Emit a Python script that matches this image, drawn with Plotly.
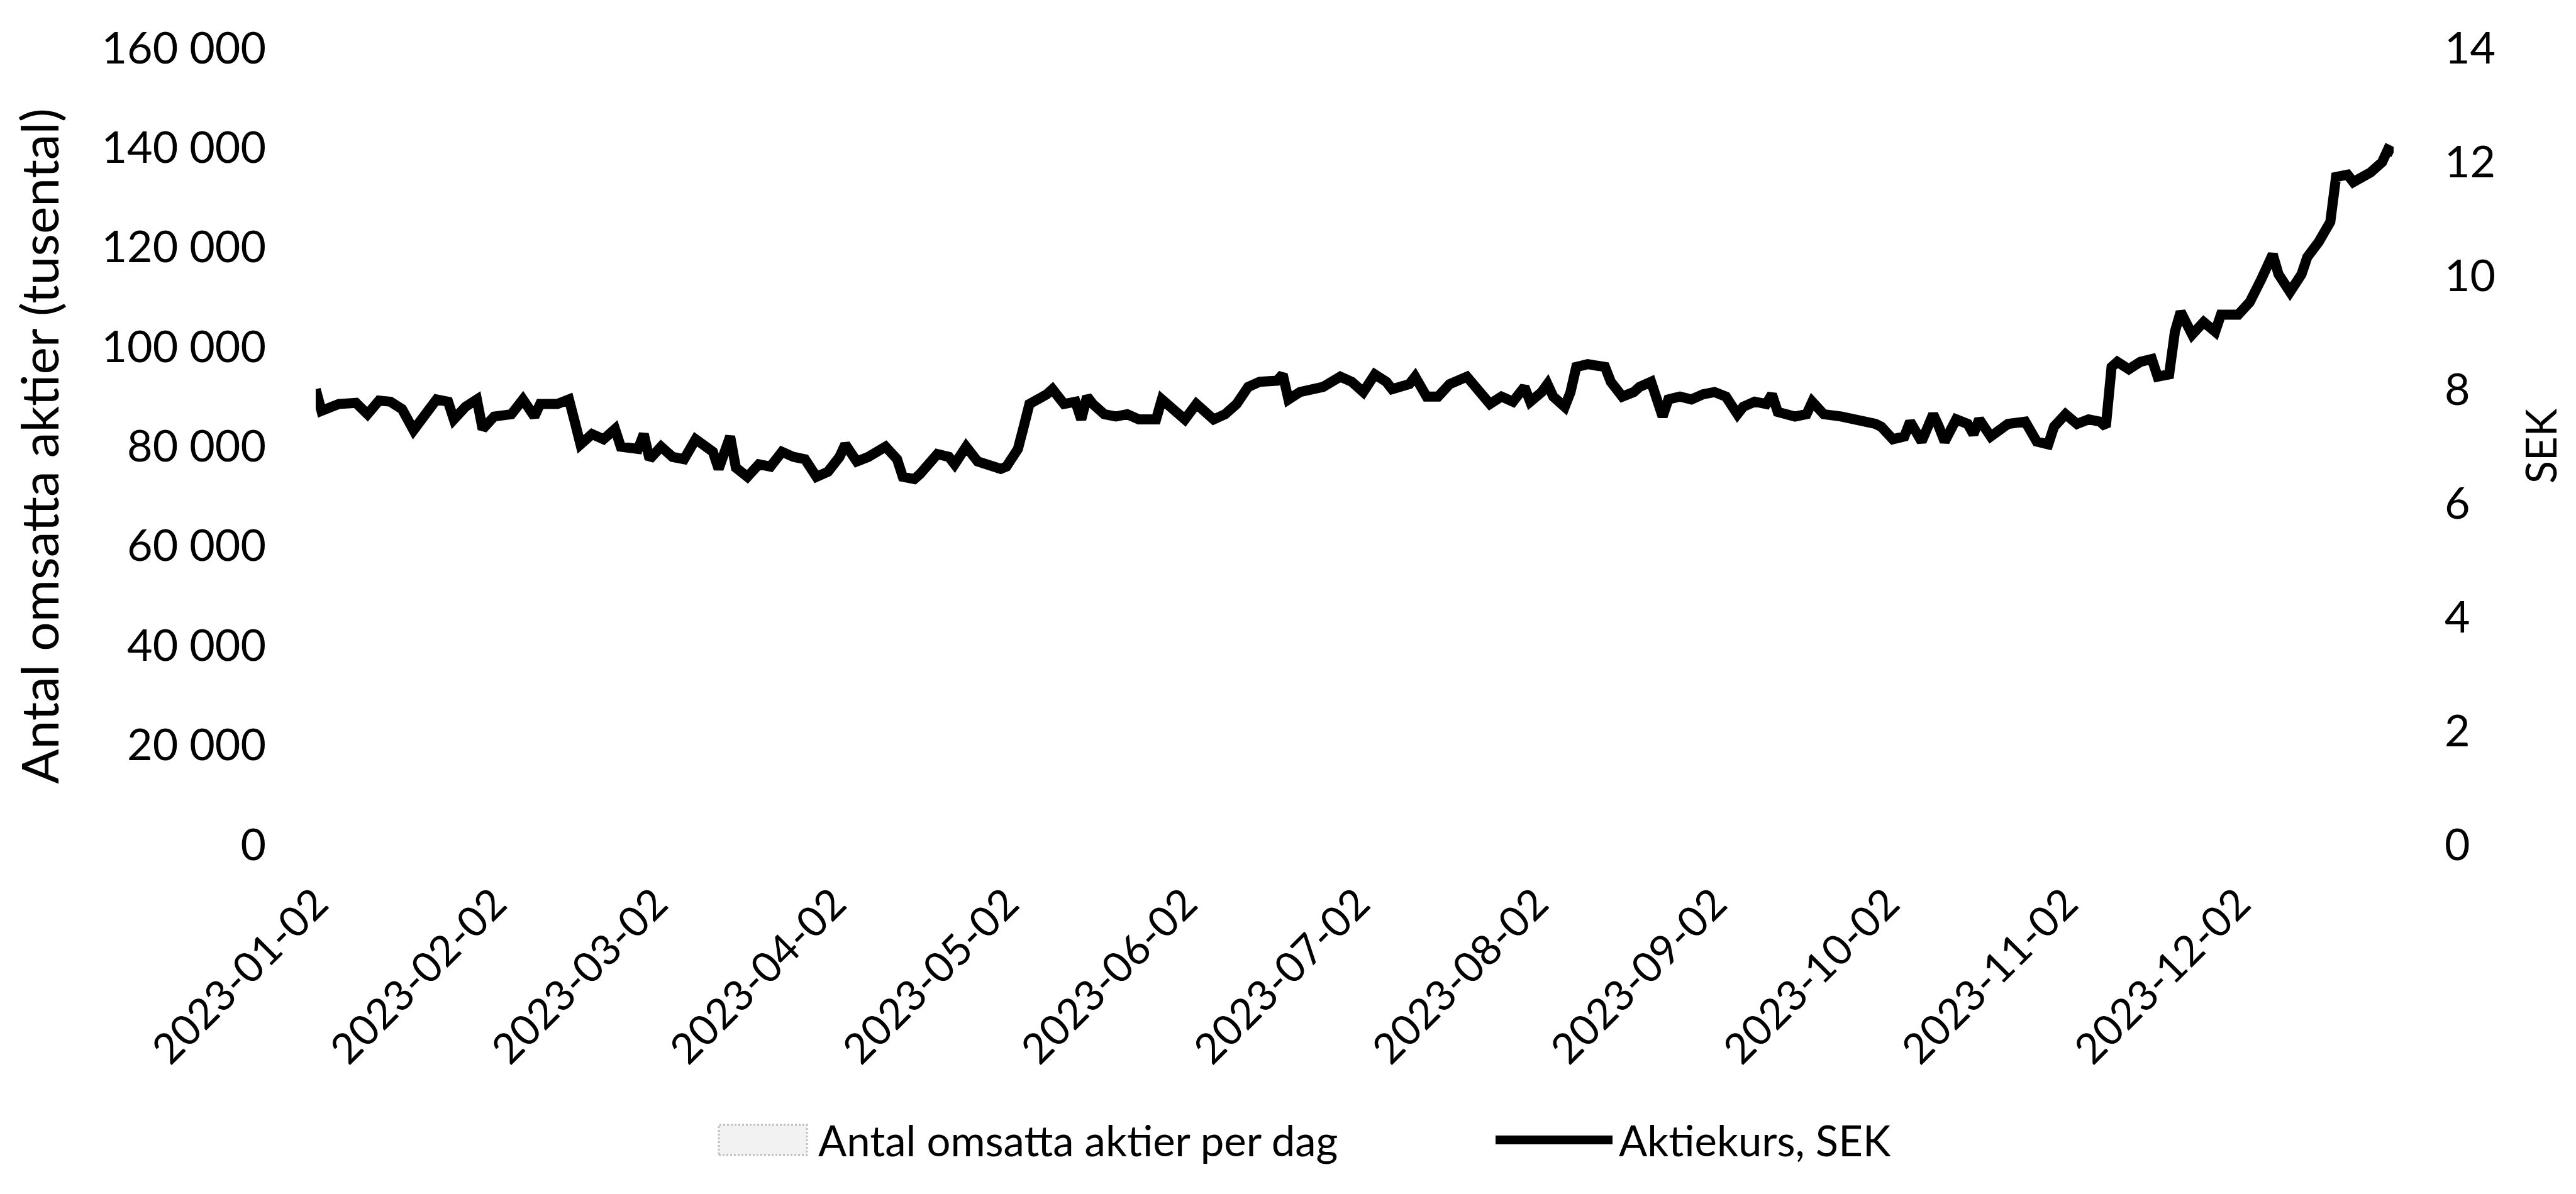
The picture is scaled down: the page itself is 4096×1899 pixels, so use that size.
import plotly.graph_objects as go

# ---------------- data ----------------
dates = [
    "2023-01-02","2023-01-03","2023-01-06","2023-01-09","2023-01-11","2023-01-13","2023-01-15","2023-01-17",
    "2023-01-19","2023-01-21","2023-01-23","2023-01-25","2023-01-26","2023-01-28","2023-01-30","2023-01-31",
    "2023-02-02","2023-02-05","2023-02-07","2023-02-09","2023-02-10","2023-02-13","2023-02-15","2023-02-16",
    "2023-02-17","2023-02-19","2023-02-21","2023-02-23","2023-02-24","2023-02-27","2023-02-28",
    "2023-03-01","2023-03-03","2023-03-05","2023-03-07","2023-03-09","2023-03-12","2023-03-13","2023-03-15",
    "2023-03-16","2023-03-18","2023-03-20","2023-03-22","2023-03-24","2023-03-26","2023-03-28","2023-03-30",
    "2023-04-01","2023-04-03","2023-04-04","2023-04-06","2023-04-08","2023-04-11","2023-04-13","2023-04-14",
    "2023-04-16","2023-04-17","2023-04-20","2023-04-22","2023-04-23","2023-04-25","2023-04-27","2023-04-29",
    "2023-05-01","2023-05-02","2023-05-04","2023-05-05","2023-05-06","2023-05-09","2023-05-10","2023-05-12",
    "2023-05-14","2023-05-15","2023-05-16","2023-05-17","2023-05-19","2023-05-21","2023-05-23","2023-05-25",
    "2023-05-27","2023-05-28","2023-05-29","2023-05-31",
    "2023-06-02","2023-06-04","2023-06-07","2023-06-09","2023-06-11","2023-06-13","2023-06-15","2023-06-18",
    "2023-06-19","2023-06-20","2023-06-22","2023-06-26","2023-06-29",
    "2023-07-01","2023-07-03","2023-07-05","2023-07-07","2023-07-08","2023-07-11","2023-07-12","2023-07-14",
    "2023-07-16","2023-07-18","2023-07-21","2023-07-23","2023-07-25","2023-07-27","2023-07-29","2023-07-31",
    "2023-08-01","2023-08-03","2023-08-04","2023-08-05","2023-08-07","2023-08-08","2023-08-09","2023-08-11",
    "2023-08-14","2023-08-15","2023-08-17","2023-08-19","2023-08-20","2023-08-22","2023-08-23","2023-08-24",
    "2023-08-25","2023-08-27","2023-08-29","2023-08-31",
    "2023-09-02","2023-09-04","2023-09-06","2023-09-07","2023-09-09","2023-09-11","2023-09-12","2023-09-13",
    "2023-09-16","2023-09-18","2023-09-19","2023-09-21","2023-09-24","2023-09-27","2023-09-30",
    "2023-10-01","2023-10-03","2023-10-05","2023-10-06","2023-10-08","2023-10-10","2023-10-11","2023-10-12",
    "2023-10-14","2023-10-16","2023-10-17","2023-10-18","2023-10-20","2023-10-23","2023-10-26","2023-10-28",
    "2023-10-30","2023-10-31",
    "2023-11-02","2023-11-04","2023-11-06","2023-11-08","2023-11-09","2023-11-10","2023-11-11","2023-11-13",
    "2023-11-15","2023-11-17","2023-11-18","2023-11-20","2023-11-21","2023-11-22","2023-11-24","2023-11-26",
    "2023-11-28","2023-11-29",
    "2023-12-02","2023-12-04","2023-12-06","2023-12-08","2023-12-09","2023-12-11","2023-12-13","2023-12-14",
    "2023-12-16","2023-12-18","2023-12-19","2023-12-21","2023-12-22","2023-12-25","2023-12-27","2023-12-28",
    "2023-12-29",
]

aktiekurs_sek = [
    8.00, 7.62, 7.74, 7.76, 7.56, 7.80, 7.78, 7.65, 7.28, 7.56, 7.82, 7.78, 7.47, 7.69, 7.82, 7.30,
    7.52, 7.56, 7.82, 7.52, 7.74, 7.74, 7.82, 7.43, 7.03, 7.21, 7.12, 7.30, 6.99, 6.95, 7.21,
    6.77, 6.99, 6.81, 6.77, 7.12, 6.90, 6.60, 7.17, 6.62, 6.46, 6.68, 6.64, 6.90, 6.81, 6.77, 6.46,
    6.55, 6.81, 7.03, 6.73, 6.81, 6.99, 6.77, 6.46, 6.42, 6.51, 6.86, 6.81, 6.68, 6.99, 6.73, 6.68,
    6.60, 6.64, 6.95, 7.34, 7.74, 7.91, 8.00, 7.74, 7.78, 7.47, 7.87, 7.74, 7.56, 7.52, 7.56, 7.47,
    7.49, 7.47, 7.82, 7.65,
    7.47, 7.74, 7.47, 7.56, 7.74, 8.04, 8.13, 8.15, 8.26, 7.82, 7.95, 8.04, 8.22,
    8.13, 7.95, 8.26, 8.13, 8.00, 8.09, 8.22, 7.87, 7.87, 8.09, 8.22, 7.95, 7.74, 7.87, 7.78, 8.04,
    7.78, 7.95, 8.09, 7.87, 7.69, 7.95, 8.39, 8.44, 8.39, 8.13, 7.87, 7.95, 8.04, 8.13, 7.87, 7.52,
    7.82, 7.87, 7.82, 7.91,
    7.95, 7.87, 7.56, 7.69, 7.78, 7.74, 7.91, 7.60, 7.52, 7.56, 7.78, 7.56, 7.52, 7.47, 7.39,
    7.34, 7.12, 7.17, 7.43, 7.08, 7.56, 7.34, 7.08, 7.47, 7.39, 7.21, 7.47, 7.17, 7.39, 7.43, 7.08,
    7.03, 7.34,
    7.56, 7.39, 7.47, 7.43, 7.34, 8.39, 8.48, 8.35, 8.48, 8.53, 8.22, 8.26, 9.01, 9.36, 8.96, 9.18,
    9.01, 9.31,
    9.31, 9.53, 9.93, 10.37, 10.02, 9.71, 10.02, 10.32, 10.59, 10.94, 11.73, 11.77, 11.64, 11.81, 11.99, 12.21,
    12.16,
]

# volume bars are not visible in the source picture
volym_dates = []
volym_tusental = []

x_tick_dates = ["2023-01-02", "2023-02-02", "2023-03-02", "2023-04-02", "2023-05-02", "2023-06-02",
                "2023-07-02", "2023-08-02", "2023-09-02", "2023-10-02", "2023-11-02", "2023-12-02"]
y_left_ticks = [0, 20000, 40000, 60000, 80000, 100000, 120000, 140000, 160000]
y_right_ticks = [0, 2, 4, 6, 8, 10, 12, 14]

name_bar = "Antal omsatta aktier per dag"
name_line = "Aktiekurs, SEK"
title_left = "Antal omsatta aktier (tusental)"
title_right = "SEK"

# ---------------- layout geometry (px) ----------------
W, H = 4096, 1899
L, R, T, B = 494, 298, 68, 564
PW, PH = W - L - R, H - T - B
FONT = "Lato, 'Open Sans', sans-serif"
FS = 67


def px_x(px):
    return (px - L) / PW


def px_y(py):
    return (H - B - py) / PH


fig = go.Figure()
fig.add_trace(go.Bar(x=volym_dates, y=volym_tusental, name=name_bar,
                     marker=dict(color="#ededed"), yaxis="y", showlegend=False))
fig.add_trace(go.Scatter(x=dates, y=aktiekurs_sek, name=name_line, mode="lines",
                         line=dict(color="#000000", width=16), yaxis="y2", showlegend=False))

fig.update_layout(
    width=W, height=H,
    margin=dict(l=L, r=R, t=T, b=B, autoexpand=False),
    paper_bgcolor="white", plot_bgcolor="white",
    separators=", ",
    font=dict(family=FONT, size=FS, color="#000000"),
    xaxis=dict(
        type="date", range=["2023-01-02", "2023-12-29"],
        tickmode="array", tickvals=x_tick_dates, ticktext=x_tick_dates,
        tickangle=-45, showgrid=False, zeroline=False, showline=False, ticks="",
        ticklabelstandoff=40, automargin=False,
        tickfont=dict(family=FONT, size=FS, color="#000000"),
    ),
    yaxis=dict(
        range=[0, 160000], tickmode="array", tickvals=y_left_ticks, tickformat=",d",
        showgrid=False, zeroline=False, showline=False, ticks="",
        ticklabelstandoff=78, automargin=False,
        tickfont=dict(family=FONT, size=70, color="#000000"),
        title=dict(text=title_left, standoff=40, font=dict(family=FONT, size=82, color="#000000")),
    ),
    yaxis2=dict(
        range=[0, 14], overlaying="y", side="right", tickmode="array", tickvals=y_right_ticks,
        showgrid=False, zeroline=False, showline=False, ticks="",
        ticklabelstandoff=80, automargin=False,
        tickfont=dict(family=FONT, size=70, color="#000000"),
        title=dict(text=title_right, standoff=50, font=dict(family=FONT, size=FS, color="#000000")),
    ),
)

# manual legend (wide symbols as in the source)
LEG_Y = 1805
fig.add_shape(type="rect", xref="paper", yref="paper",
              x0=px_x(1135), x1=px_x(1275), y0=px_y(LEG_Y + 24), y1=px_y(LEG_Y - 24),
              fillcolor="#f2f2f2", line=dict(color="#bdbdbd", width=3, dash="dot"))
fig.add_shape(type="line", xref="paper", yref="paper",
              x0=px_x(2370), x1=px_x(2556), y0=px_y(LEG_Y), y1=px_y(LEG_Y),
              line=dict(color="#000000", width=14))
fig.add_annotation(xref="paper", yref="paper", x=px_x(1291), y=px_y(LEG_Y), text=name_bar,
                   showarrow=False, xanchor="left", yanchor="middle",
                   font=dict(family=FONT, size=FS, color="#000000"))
fig.add_annotation(xref="paper", yref="paper", x=px_x(2564), y=px_y(LEG_Y), text=name_line,
                   showarrow=False, xanchor="left", yanchor="middle",
                   font=dict(family=FONT, size=FS, color="#000000"))

fig.write_html("out.html")
